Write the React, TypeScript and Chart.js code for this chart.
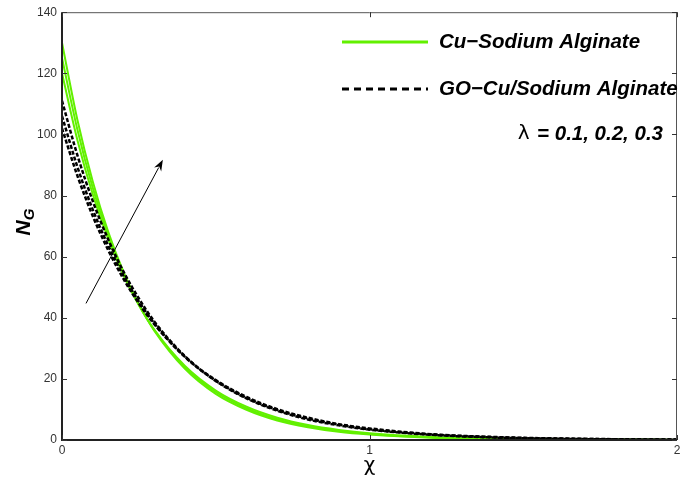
import React, { useEffect, useRef } from "react";
import { Chart, registerables } from "chart.js";

Chart.register(...registerables);

// χ sample positions
const chiValues = [0, 0.05, 0.1, 0.15, 0.2, 0.25, 0.3, 0.4, 0.5, 0.6, 0.7, 0.8, 0.9, 1.0, 1.2, 1.4, 1.6, 1.8, 2.0];

// Cu–Sodium Alginate, λ = 0.1, 0.2, 0.3
const cuL1 = [120, 98.2, 80.4, 65.9, 53.9, 44.1, 36.1, 24.2, 16.2, 10.9, 7.3, 4.9, 3.3, 2.2, 0.99, 0.44, 0.2, 0.09, 0.04];
const cuL2 = [125, 101.6, 82.5, 67.1, 54.5, 44.3, 36.0, 23.8, 15.7, 10.4, 6.8, 4.5, 3.0, 2.0, 0.86, 0.37, 0.16, 0.07, 0.03];
const cuL3 = [130, 104.8, 84.6, 68.2, 55.0, 44.4, 35.8, 23.3, 15.1, 9.9, 6.4, 4.2, 2.7, 1.8, 0.75, 0.32, 0.13, 0.06, 0.02];

// GO–Cu/Sodium Alginate, λ = 0.1, 0.2, 0.3
const goL1 = [102, 86.5, 73.3, 62.2, 52.7, 44.7, 37.9, 27.2, 19.6, 14.1, 10.1, 7.3, 5.2, 3.8, 1.9, 1.0, 0.52, 0.27, 0.14];
const goL2 = [106, 89.4, 75.4, 63.7, 53.7, 45.3, 38.2, 27.2, 19.4, 13.8, 9.8, 7.0, 5.0, 3.5, 1.8, 0.9, 0.46, 0.23, 0.12];
const goL3 = [111, 93.2, 78.2, 65.7, 55.1, 46.3, 38.8, 27.4, 19.3, 13.6, 9.6, 6.7, 4.8, 3.4, 1.7, 0.83, 0.41, 0.2, 0.1];

const xTicks = [0, 1, 2];
const yTicks = [0, 20, 40, 60, 80, 100, 120, 140];

const legendLabels = ["Cu\u2212Sodium Alginate", "GO\u2212Cu/Sodium Alginate"];
const lambdaLabel = "= 0.1, 0.2, 0.3";

// arrow annotation in data coordinates: [χ, N_G]
const arrowTail = [0.078, 44.7];
const arrowHead = [0.328, 91.7];

const GREEN = "rgb(98,240,0)";
const BLACK = "#000000";

const toPoints = (ys: number[]) => ys.map((y, i) => ({ x: chiValues[i], y }));

const LEG_FONT = "italic bold 20.5px 'Liberation Sans', Arial, sans-serif";

const decorPlugin = {
  id: "decor",
  afterDatasetsDraw(chart: any) {
    const { ctx, chartArea: a, scales } = chart;
    const xs = scales.x;
    const ys = scales.y;
    ctx.save();
    // frame
    ctx.strokeStyle = "#555";
    ctx.lineWidth = 1;
    ctx.beginPath();
    ctx.moveTo(a.left, a.top + 0.5);
    ctx.lineTo(a.right - 0.5, a.top + 0.5);
    ctx.lineTo(a.right - 0.5, a.bottom);
    ctx.stroke();
    ctx.strokeStyle = "#222";
    ctx.lineWidth = 2;
    ctx.beginPath();
    ctx.moveTo(a.left, a.top);
    ctx.lineTo(a.left, a.bottom);
    ctx.lineTo(a.right, a.bottom);
    ctx.stroke();
    // inner ticks
    ctx.lineWidth = 1;
    ctx.strokeStyle = "#333";
    const tl = 5;
    yTicks.forEach((v) => {
      const y = Math.round(ys.getPixelForValue(v)) + 0.5;
      ctx.beginPath();
      ctx.moveTo(a.left, y);
      ctx.lineTo(a.left + tl, y);
      ctx.moveTo(a.right, y);
      ctx.lineTo(a.right - tl, y);
      ctx.stroke();
    });
    xTicks.forEach((v) => {
      const x = Math.round(xs.getPixelForValue(v)) + 0.5;
      ctx.beginPath();
      ctx.moveTo(x, a.bottom);
      ctx.lineTo(x, a.bottom - tl);
      ctx.moveTo(x, a.top);
      ctx.lineTo(x, a.top + tl);
      ctx.stroke();
    });

    // arrow
    const x1 = xs.getPixelForValue(arrowTail[0]);
    const y1 = ys.getPixelForValue(arrowTail[1]);
    const x2 = xs.getPixelForValue(arrowHead[0]);
    const y2 = ys.getPixelForValue(arrowHead[1]);
    const ang = Math.atan2(y2 - y1, x2 - x1);
    const hl = 11;
    const hw = 4;
    ctx.strokeStyle = "#000";
    ctx.lineWidth = 1;
    ctx.beginPath();
    ctx.moveTo(x1, y1);
    ctx.lineTo(x2 - Math.cos(ang) * hl * 0.8, y2 - Math.sin(ang) * hl * 0.8);
    ctx.stroke();
    ctx.fillStyle = "#000";
    ctx.beginPath();
    ctx.moveTo(x2, y2);
    ctx.lineTo(
      x2 - Math.cos(ang) * hl - Math.sin(ang) * hw,
      y2 - Math.sin(ang) * hl + Math.cos(ang) * hw
    );
    ctx.lineTo(x2 - Math.cos(ang) * hl * 0.7, y2 - Math.sin(ang) * hl * 0.7);
    ctx.lineTo(
      x2 - Math.cos(ang) * hl + Math.sin(ang) * hw,
      y2 - Math.sin(ang) * hl - Math.cos(ang) * hw
    );
    ctx.closePath();
    ctx.fill();

    // legend
    const lx1 = 342;
    const lx2 = 428;
    const ty1 = 42;
    const ty2 = 89;
    ctx.lineWidth = 3;
    ctx.strokeStyle = GREEN;
    ctx.beginPath();
    ctx.moveTo(lx1, ty1);
    ctx.lineTo(lx2, ty1);
    ctx.stroke();
    ctx.strokeStyle = BLACK;
    ctx.setLineDash([7, 5]);
    ctx.beginPath();
    ctx.moveTo(lx1, ty2);
    ctx.lineTo(lx2, ty2);
    ctx.stroke();
    ctx.setLineDash([]);
    ctx.fillStyle = "#000";
    ctx.textBaseline = "middle";
    ctx.textAlign = "left";
    ctx.font = LEG_FONT;
    ctx.fillText(legendLabels[0], 439, ty1);
    ctx.fillText(legendLabels[1], 439, ty2);
    // lambda label
    ctx.textAlign = "right";
    const lamRight = 663;
    ctx.fillText(lambdaLabel, lamRight, 134);
    const w = ctx.measureText(lambdaLabel).width;
    ctx.font = "20px 'DejaVu Sans', sans-serif";
    ctx.fillText("\u03bb ", lamRight - w - 1, 134);

    // axis titles
    ctx.textAlign = "center";
    ctx.font = "20px 'DejaVu Sans', sans-serif";
    ctx.fillText("\u03c7", (a.left + a.right) / 2, 466);

    ctx.translate(24, 222);
    ctx.rotate(-Math.PI / 2);
    ctx.textAlign = "left";
    const nFont = "italic bold 21px 'Liberation Sans', Arial, sans-serif";
    const gFont = "italic bold 15px 'Liberation Sans', Arial, sans-serif";
    ctx.font = nFont;
    const nW = ctx.measureText("N").width;
    ctx.font = gFont;
    const gW = ctx.measureText("G").width;
    const start = -(nW + gW) / 2;
    ctx.font = nFont;
    ctx.fillText("N", start, 0);
    ctx.font = gFont;
    ctx.fillText("G", start + nW, 6);
    ctx.restore();
  },
};

export default function App() {
  const ref = useRef<HTMLCanvasElement | null>(null);
  useEffect(() => {
    document.body.style.margin = "0";
    const canvas = ref.current!;
    const tickFont = { family: "'Liberation Sans', Arial, sans-serif", size: 12 };
    const greenSet = (ys: number[]) => ({
      data: toPoints(ys),
      borderColor: GREEN,
      borderWidth: 2,
      pointRadius: 0,
      cubicInterpolationMode: "monotone" as const,
      order: 2,
    });
    const blackSet = (ys: number[]) => ({
      data: toPoints(ys),
      borderColor: BLACK,
      borderWidth: 2.5,
      borderDash: [4, 2],
      pointRadius: 0,
      cubicInterpolationMode: "monotone" as const,
      order: 1,
    });
    const chart = new Chart(canvas, {
      type: "line",
      data: {
        datasets: [
          greenSet(cuL1),
          greenSet(cuL2),
          greenSet(cuL3),
          blackSet(goL1),
          blackSet(goL2),
          blackSet(goL3),
        ],
      },
      options: {
        animation: false,
        responsive: false,
        layout: { padding: { top: 8, right: 8, left: 0, bottom: 0 } },
        plugins: { legend: { display: false }, tooltip: { enabled: false } },
        scales: {
          x: {
            type: "linear",
            min: 0,
            max: 2,
            afterBuildTicks: (s: any) => {
              s.ticks = xTicks.map((v) => ({ value: v }));
            },
            afterFit: (s: any) => {
              s.height = 43;
            },
            ticks: { font: tickFont, color: "#333", padding: 3, maxRotation: 0 },
            grid: { display: false, drawTicks: false },
            border: { display: false },
          },
          y: {
            type: "linear",
            min: 0,
            max: 140,
            afterBuildTicks: (s: any) => {
              s.ticks = yTicks.map((v) => ({ value: v }));
            },
            afterFit: (s: any) => {
              s.width = 62;
            },
            ticks: { font: tickFont, color: "#333", padding: 5 },
            grid: { display: false, drawTicks: false },
            border: { display: false },
          },
        },
      },
      plugins: [decorPlugin],
    });
    return () => chart.destroy();
  }, []);
  return <canvas ref={ref} width={685} height={483} style={{ display: "block" }} />;
}
